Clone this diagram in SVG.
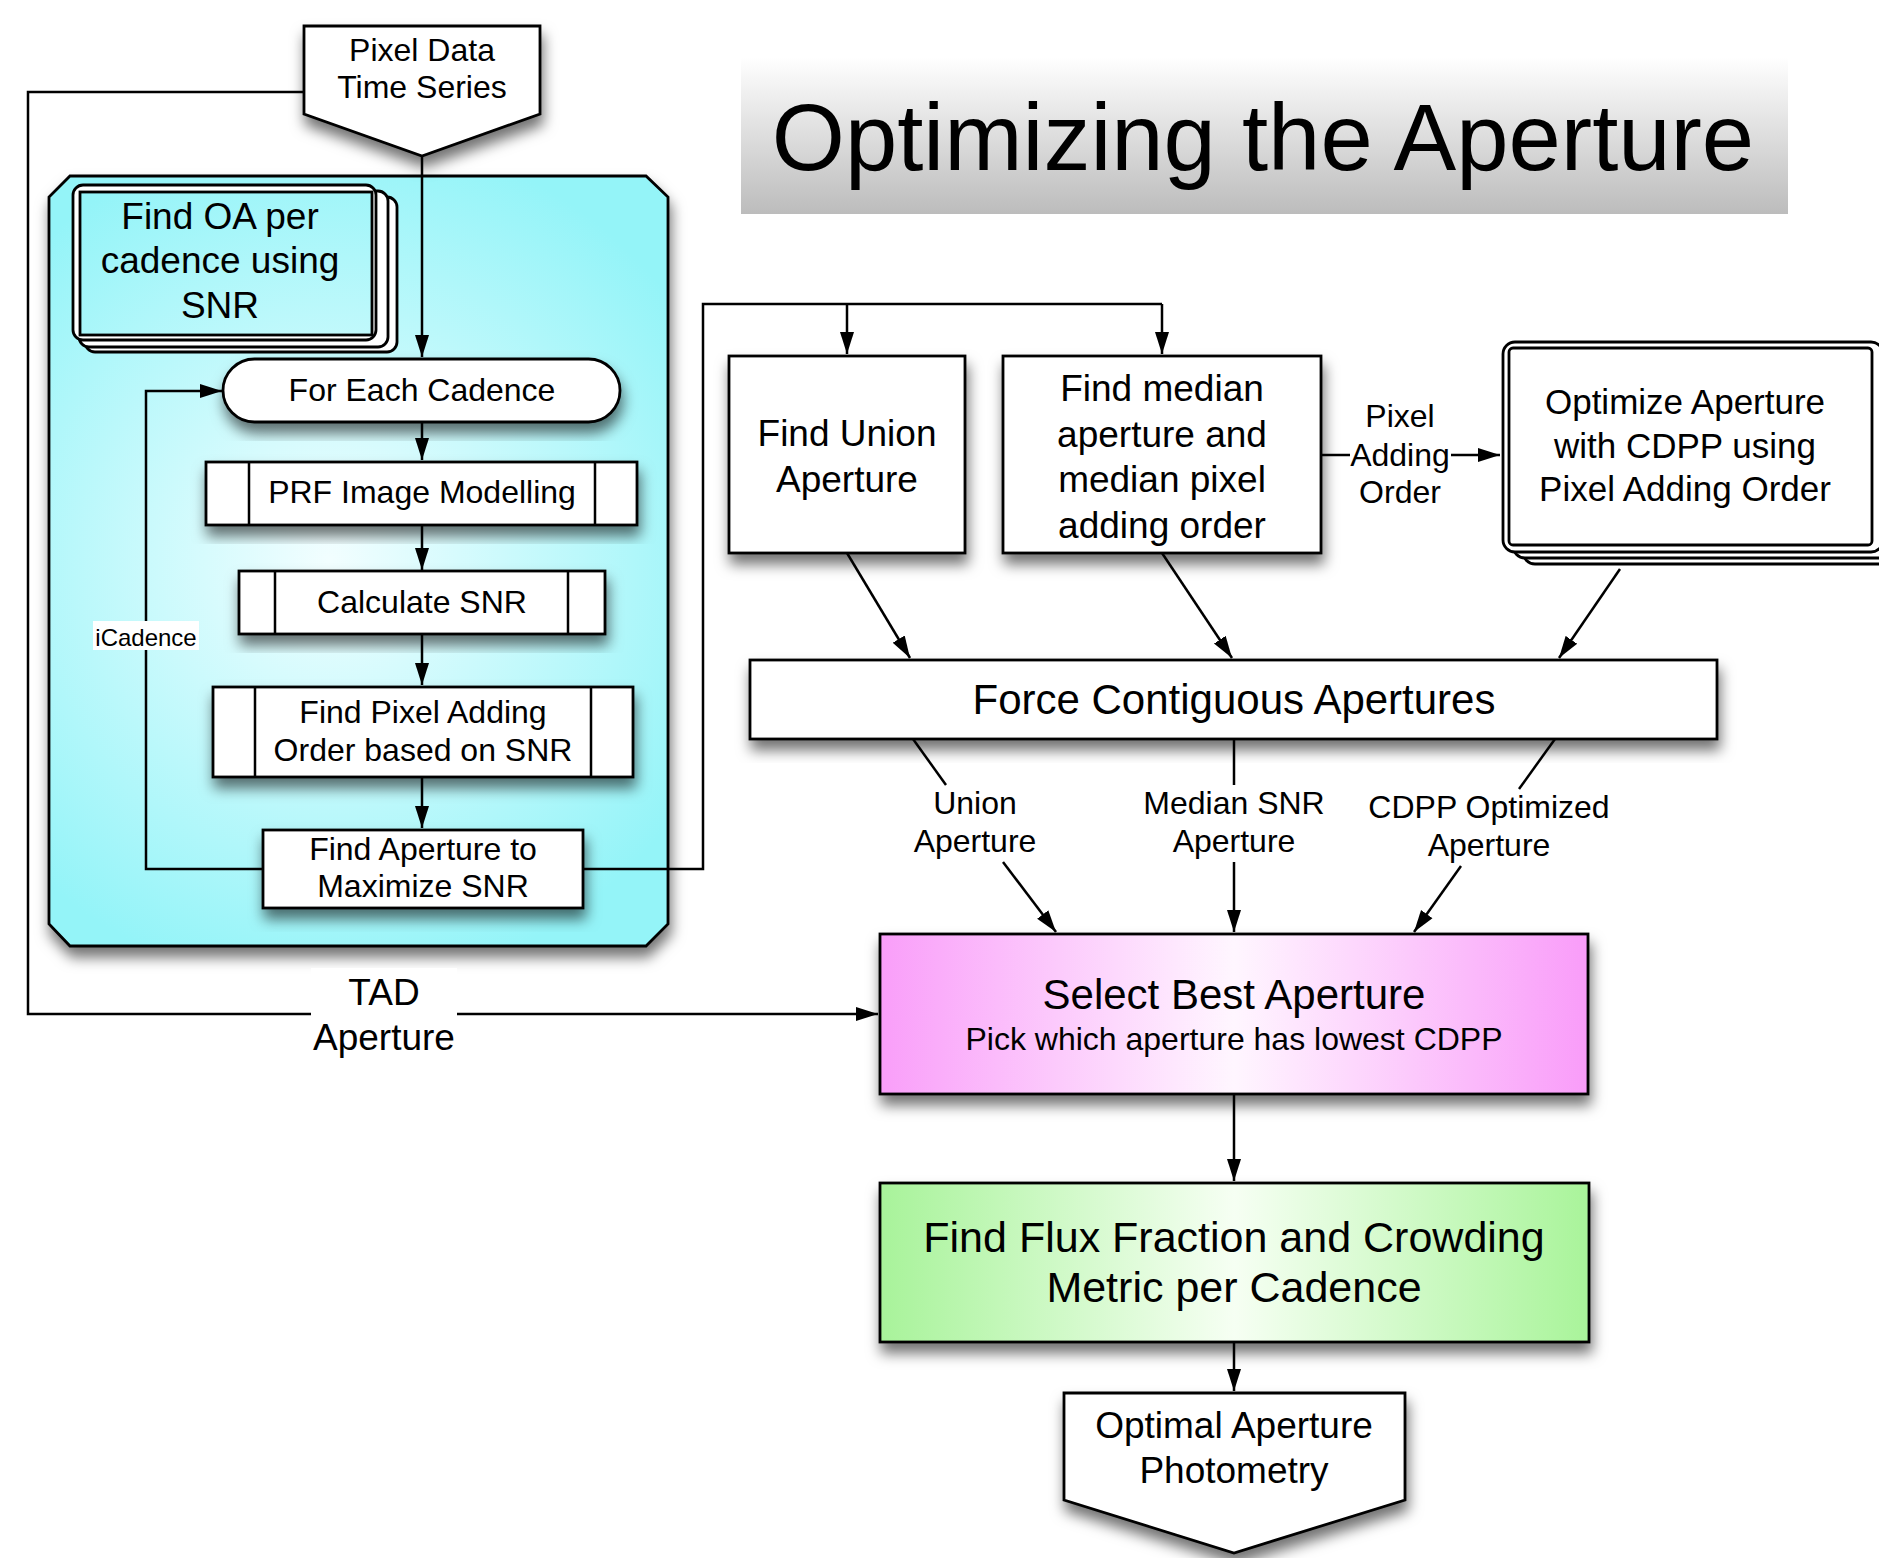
<svg xmlns="http://www.w3.org/2000/svg" width="1879" height="1558" viewBox="0 0 1879 1558">
<style>
text{font-family:"Liberation Sans",Arial,sans-serif;fill:#000;text-anchor:middle}
.box{stroke:#000;stroke-width:2.8;fill:#fff}
.sh{filter:url(#shadow)}
.ln{fill:none;stroke:#000;stroke-width:2.5}
.arr{marker-end:url(#ah)}
.t32{font-size:32px}
.t37{font-size:37px}
</style>
<defs>
<filter id="shadow" x="-20%" y="-20%" width="140%" height="150%">
<feDropShadow dx="2" dy="10" stdDeviation="7" flood-color="#000" flood-opacity="0.55"/>
</filter>
<marker id="ah" markerUnits="userSpaceOnUse" markerWidth="24" markerHeight="16" refX="22" refY="8" orient="auto">
<path d="M0,1 L22,8 L0,15 z" fill="#000"/>
</marker>
<linearGradient id="titleG" x1="0" y1="0" x2="0" y2="1">
<stop offset="0" stop-color="#ffffff"/>
<stop offset="1" stop-color="#bcbcbc"/>
</linearGradient>
<radialGradient id="cyanG" gradientUnits="userSpaceOnUse" cx="330" cy="560" r="430">
<stop offset="0" stop-color="#f2feff"/>
<stop offset="1" stop-color="#94f4f8"/>
</radialGradient>
<linearGradient id="pinkG" x1="0" y1="0" x2="1" y2="0">
<stop offset="0" stop-color="#f99ef9"/>
<stop offset="0.5" stop-color="#fff6ff"/>
<stop offset="1" stop-color="#f99cf9"/>
</linearGradient>
<linearGradient id="greenG" x1="0" y1="0" x2="1" y2="0">
<stop offset="0" stop-color="#a8f39a"/>
<stop offset="0.5" stop-color="#f6fff3"/>
<stop offset="1" stop-color="#a9f49a"/>
</linearGradient>
</defs>
<rect width="1879" height="1558" fill="#fff"/>

<g id="title">
<rect x="741" y="57" width="1047" height="157" fill="url(#titleG)"/>
<text x="1263" y="170" style="font-size:94px">Optimizing the Aperture</text>
</g>

<g id="container">
<path class="box sh" d="M70,176 L646,176 L668,197 L668,924 L646,946 L70,946 L49,924 L49,197 Z" style="fill:url(#cyanG)"/>
</g>

<g id="find-oa">
<rect class="box" x="85" y="197" width="312" height="155" rx="10"/>
<rect class="box" x="79" y="191" width="309" height="156" rx="10"/>
<rect class="box" x="73" y="185" width="303" height="155" rx="10"/>
<rect class="box" x="80" y="192" width="292" height="143" style="fill:url(#cyanG)"/>
<text class="t37" x="220" y="229">Find OA per</text>
<text class="t37" x="220" y="273">cadence using</text>
<text class="t37" x="220" y="318">SNR</text>
</g>

<g id="connectors">
<path class="ln arr" d="M422,156 L422,357"/>
<path class="ln arr" d="M422,422 L422,460"/>
<path class="ln arr" d="M422,525 L422,570"/>
<path class="ln arr" d="M422,634 L422,685"/>
<path class="ln arr" d="M422,777 L422,828"/>
<path class="ln arr" d="M264,869 L146,869 L146,391 L222,391"/>
<path class="ln" d="M582,869 L703,869 L703,304 L1162,304"/>
<path class="ln arr" d="M847,304 L847,354"/>
<path class="ln arr" d="M1162,304 L1162,354"/>
<path class="ln arr" d="M304,92 L28,92 L28,1014 L878,1014"/>
<path class="ln" d="M1321,455 L1350,455"/>
<path class="ln arr" d="M1451,455 L1500,455"/>
<path class="ln arr" d="M847,553 L910,658"/>
<path class="ln arr" d="M1162,553 L1232,658"/>
<path class="ln arr" d="M1620,569 L1559,658"/>
<path class="ln" d="M913,739 L946,785"/>
<path class="ln arr" d="M1003,862 L1056,932"/>
<path class="ln" d="M1234,739 L1234,785"/>
<path class="ln arr" d="M1234,862 L1234,932"/>
<path class="ln" d="M1555,739 L1519,789"/>
<path class="ln arr" d="M1461,866 L1414,932"/>
<path class="ln arr" d="M1234,1094 L1234,1181"/>
<path class="ln arr" d="M1234,1342 L1234,1391"/>
<rect x="93" y="621" width="106" height="29" fill="#fff"/>
<text x="146" y="646" style="font-size:24px">iCadence</text>
<rect x="311" y="968" width="146" height="94" fill="#fff"/>
<text class="t37" x="384" y="1005">TAD</text>
<text class="t37" x="384" y="1050">Aperture</text>
<text class="t32" x="1400" y="427">Pixel</text>
<text class="t32" x="1400" y="466">Adding</text>
<text class="t32" x="1400" y="503">Order</text>
<text class="t32" x="975" y="814">Union</text>
<text class="t32" x="975" y="852">Aperture</text>
<text class="t32" x="1234" y="814">Median SNR</text>
<text class="t32" x="1234" y="852">Aperture</text>
<text class="t32" x="1489" y="818">CDPP Optimized</text>
<text class="t32" x="1489" y="856">Aperture</text>
</g>

<g id="pixel-data">
<polygon class="box sh" points="304,26 540,26 540,114 422,156 304,114"/>
<text class="t32" x="422" y="61">Pixel Data</text>
<text class="t32" x="422" y="98">Time Series</text>
</g>

<g id="for-each-cadence">
<rect class="box sh" x="223" y="359" width="397" height="63" rx="31.5"/>
<text class="t32" x="422" y="401">For Each Cadence</text>
</g>

<g id="prf">
<rect class="box sh" x="206" y="462" width="431" height="63"/>
<path class="ln" d="M249,462 V525 M595,462 V525"/>
<text class="t32" x="422" y="503">PRF Image Modelling</text>
</g>

<g id="calc-snr">
<rect class="box sh" x="239" y="571" width="366" height="63"/>
<path class="ln" d="M275,571 V634 M568,571 V634"/>
<text class="t32" x="422" y="613">Calculate SNR</text>
</g>

<g id="find-pixel-order">
<rect class="box sh" x="213" y="687" width="420" height="90"/>
<path class="ln" d="M255,687 V777 M591,687 V777"/>
<text class="t32" x="423" y="723">Find Pixel Adding</text>
<text class="t32" x="423" y="761">Order based on SNR</text>
</g>

<g id="find-aperture-snr">
<rect class="box sh" x="263" y="830" width="320" height="78"/>
<text class="t32" x="423" y="860">Find Aperture to</text>
<text class="t32" x="423" y="897">Maximize SNR</text>
</g>

<g id="find-union">
<rect class="box sh" x="729" y="356" width="236" height="197"/>
<text class="t37" x="847" y="446">Find Union</text>
<text class="t37" x="847" y="492">Aperture</text>
</g>

<g id="find-median">
<rect class="box sh" x="1003" y="356" width="318" height="197"/>
<text class="t37" x="1162" y="401">Find median</text>
<text class="t37" x="1162" y="447">aperture and</text>
<text class="t37" x="1162" y="492">median pixel</text>
<text class="t37" x="1162" y="538">adding order</text>
</g>

<g id="optimize-cdpp">
<rect class="box" x="1523" y="356" width="380" height="208" rx="12"/>
<rect class="box" x="1513" y="350" width="380" height="208" rx="12"/>
<rect class="box" x="1503" y="342" width="380" height="210" rx="12"/>
<rect class="box" x="1509" y="348" width="363" height="197" rx="4"/>
<text x="1685" y="414" style="font-size:35px">Optimize Aperture</text>
<text x="1685" y="458" style="font-size:35px">with CDPP using</text>
<text x="1685" y="501" style="font-size:35px">Pixel Adding Order</text>
</g>

<g id="force-contiguous">
<rect class="box sh" x="750" y="660" width="967" height="79"/>
<text x="1234" y="714" style="font-size:42px">Force Contiguous Apertures</text>
</g>

<g id="select-best">
<rect class="box sh" x="880" y="934" width="708" height="160" style="fill:url(#pinkG)"/>
<text x="1234" y="1009" style="font-size:42px">Select Best Aperture</text>
<text class="t32" x="1234" y="1050">Pick which aperture has lowest CDPP</text>
</g>

<g id="flux-fraction">
<rect class="box sh" x="880" y="1183" width="709" height="159" style="fill:url(#greenG)"/>
<text x="1234" y="1252" style="font-size:43px">Find Flux Fraction and Crowding</text>
<text x="1234" y="1302" style="font-size:43px">Metric per Cadence</text>
</g>

<g id="optimal-photometry">
<polygon class="box sh" points="1064,1393 1405,1393 1405,1500 1234,1553 1064,1500"/>
<text class="t37" x="1234" y="1438">Optimal Aperture</text>
<text class="t37" x="1234" y="1483">Photometry</text>
</g>
</svg>
